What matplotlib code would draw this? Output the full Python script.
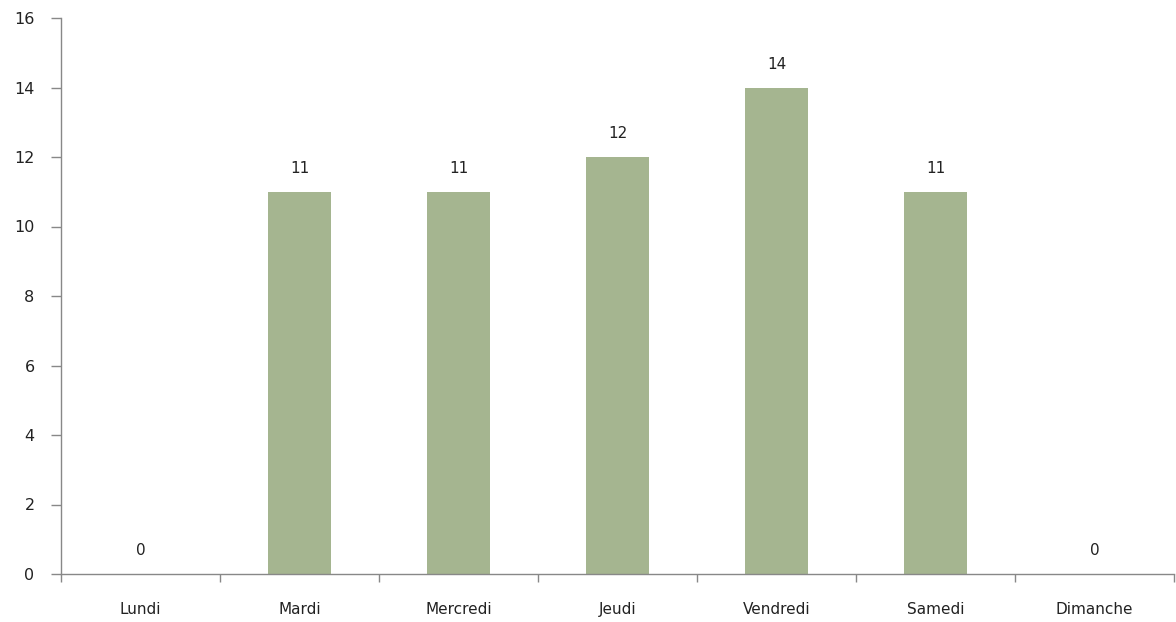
import matplotlib
matplotlib.use("Agg")
import matplotlib.pyplot as plt
import numpy as np

plt.rcParams['font.family'] = ['DejaVu Sans']

jours = ["Lundi", "Mardi", "Mercredi", "Jeudi", "Vendredi", "Samedi", "Dimanche"]
valeurs = [0, 11, 11, 12, 14, 11, 0]

fig = plt.figure(figsize=(11.76, 6.22), dpi=100)
ax = fig.add_axes([61/1176, 48/622, 1113/1176, 556/622])

x = np.arange(len(jours))
bars = ax.bar(x, valeurs, width=0.4, color="#a5b590", edgecolor="none", zorder=2)

for xi, v in zip(x, valeurs):
    ax.text(xi, v + 0.45, str(v), ha="center", va="bottom", fontsize=11, color="#222222")

ax.set_xlim(-0.5, len(jours) - 0.5)
ax.set_ylim(0, 16)
ax.set_yticks(range(0, 17, 2))

# ticks between categories, labels centred
ax.set_xticks(np.arange(-0.5, len(jours), 1.0))
ax.set_xticklabels([])
ax.set_xticks(x, minor=True)
ax.set_xticklabels(jours, minor=True)
ax.tick_params(axis="x", which="minor", length=0, pad=20, labelsize=11, labelcolor="#222222")
ax.tick_params(axis="x", which="major", length=6, width=1, color="#888888", direction="out")
ax.tick_params(axis="y", length=7, width=1, color="#888888", pad=12, labelsize=11.5, labelcolor="#222222")

for s in ["top", "right"]:
    ax.spines[s].set_visible(False)
for s in ["left", "bottom"]:
    ax.spines[s].set_color("#888888")
    ax.spines[s].set_linewidth(1)

fig.savefig("out.png", dpi=100)
